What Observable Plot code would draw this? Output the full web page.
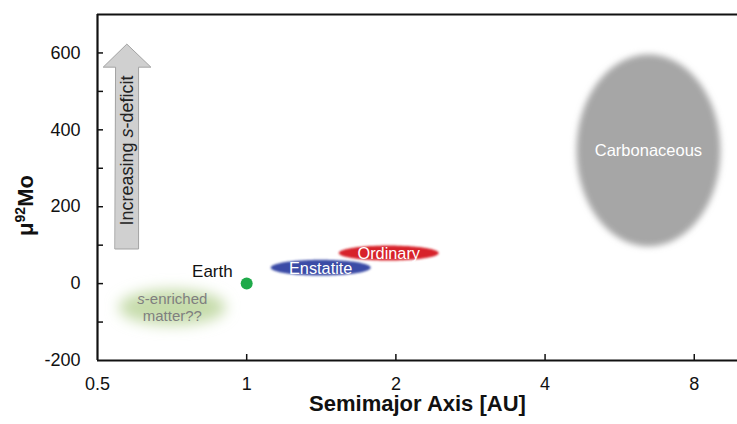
<!DOCTYPE html>
<html><head><meta charset="utf-8">
<script src="https://cdn.jsdelivr.net/npm/d3@7"></script>
<script src="https://cdn.jsdelivr.net/npm/@observablehq/plot@0.6"></script>
<style>body{margin:0;background:#fff}</style>
</head><body><div id="chart"></div>
<script>
// ---- data ----
const xTicks = [0.5, 1, 2, 4, 8];
const xInnerTicks = [1, 2, 4, 8];
const yTicks = [-200, 0, 200, 400, 600];
const yInnerTicks = [-100, 0, 100, 200, 300, 400, 500, 600];

const regions = ["Carbonaceous", "Ordinary", "Enstatite", "s-enriched\nmatter??"];
const regionAuMin = [4.63, 1.534, 1.118, 0.552];
const regionAuMax = [9.03, 2.44, 1.779, 0.908];
const regionMuMin = [97, 60, 21, -108];
const regionMuMax = [596, 99, 62, -15];
const regionColors = ["#a6a6a6", "#d7212b", "#3a4ba6", "#c6dcab"];
const regionTextColors = ["#ffffff", "#ffffff", "#ffffff", "#7f7f7f"];
const regionFontSizes = [16.5, 16.3, 16.3, 15];
const regionBlur = [3, 1, 1, 7];

const earthAu = [1];
const earthMu = [0];
const earthLabel = ["Earth"];

// arrow outline (AU, μ92Mo)
const arrowAu = [0.5428, 0.6051, 0.6051, 0.6408, 0.573, 0.5134, 0.5428];
const arrowMu = [90, 90, 563, 563, 623, 563, 563];
const arrowLabel = ["Increasing s-deficit"];
const arrowLabelAu = [0.573];
const arrowLabelMu = [346];

const xLabel = "Semimajor Axis [AU]";
const yLabel = "μ92Mo";

// ---- build ----
function ellipsePts(i) {
  const l0 = Math.log(regionAuMin[i]), l1 = Math.log(regionAuMax[i]);
  const cy = (regionMuMin[i] + regionMuMax[i]) / 2, ry = (regionMuMax[i] - regionMuMin[i]) / 2;
  return d3.range(0, 145).map(k => {
    const t = k / 144 * 2 * Math.PI;
    return {x: Math.exp((l0 + l1) / 2 + (l1 - l0) / 2 * Math.cos(t)), y: cy + ry * Math.sin(t)};
  });
}
const regionCenters = regions.map((name, i) => ({
  name,
  x: Math.sqrt(regionAuMin[i] * regionAuMax[i]),
  y: (regionMuMin[i] + regionMuMax[i]) / 2,
  i
}));
const arrowPts = arrowAu.map((x, i) => ({x, y: arrowMu[i]}));
const earth = earthAu.map((x, i) => ({x, y: earthMu[i], label: earthLabel[i]}));

const font = "Liberation Sans, Arial, Helvetica, sans-serif";
const marks = [];
regions.forEach((r, i) => {
  marks.push(Plot.line(ellipsePts(i), {x: "x", y: "y", fill: regionColors[i], stroke: "none", curve: "linear-closed"}));
});
regionCenters.forEach(c => {
  marks.push(Plot.text([c], {x: "x", y: "y", text: "name", fill: regionTextColors[c.i], fontSize: regionFontSizes[c.i], lineHeight: 1.13}));
});
marks.push(
  Plot.line(arrowPts, {x: "x", y: "y", fill: "#d0d0d0", stroke: "#a3a3a3", strokeWidth: 1, curve: "linear-closed"}),
  Plot.text(arrowLabel, {x: () => arrowLabelAu[0], y: () => arrowLabelMu[0], text: d => d, rotate: -90, fontSize: 18, fill: "#222"}),
  Plot.dot(earth, {x: "x", y: "y", r: 6, fill: "#1faa4a"}),
  Plot.text(earth, {x: "x", y: "y", text: "label", textAnchor: "end", dx: -14, dy: -12, fontSize: 17, fill: "#111"}),
  Plot.tickX(xInnerTicks, {x: d => d, insetTop: 340, stroke: "#111", strokeWidth: 1.5}),
  Plot.tickY(yInnerTicks, {y: d => d, insetRight: 634, stroke: "#111", strokeWidth: 1.5}),
  Plot.ruleX([xTicks[0]], {stroke: "#111", strokeWidth: 2.2}),
  Plot.ruleY([-200, 700], {stroke: "#111", strokeWidth: 2.2}),
  Plot.text(xTicks, {x: d => d, text: d => String(d), frameAnchor: "bottom", lineAnchor: "middle", textAnchor: "middle", dy: 24, fontSize: 18, fill: "#111"}),
  Plot.axisY({ticks: yTicks, tickFormat: d => String(d), tickSize: 0, tickPadding: 17, label: null, fontSize: 18, fill: "#111"}),
  Plot.text([yLabel], {frameAnchor: "left", textAnchor: "middle", lineAnchor: "middle", dx: -72, dy: 18, rotate: -90, fontSize: 22, fontWeight: "bold", fill: "#111"}),
  Plot.text([xLabel], {frameAnchor: "bottom", textAnchor: "middle", lineAnchor: "middle", dy: 43, fontSize: 22, fontWeight: "bold", fill: "#111"})
);

const chart = Plot.plot({
  width: 737, height: 424,
  marginLeft: 97, marginRight: 0, marginTop: 14, marginBottom: 64,
  x: {type: "log", domain: [0.5, 9.78], axis: null},
  y: {domain: [-200, 700]},
  style: {fontFamily: font, background: "#fff", overflow: "visible"},
  marks
});

// ---- post-processing: blur, italic, superscript ----
const svg = d3.select(chart);
const defs = svg.insert("defs", ":first-child");
regionColors.forEach((c, i) => {
  defs.append("filter").attr("id", "blur" + i)
    .attr("x", "-50%").attr("y", "-50%").attr("width", "200%").attr("height", "200%")
    .append("feGaussianBlur").attr("stdDeviation", regionBlur[i]);
  svg.selectAll(`g[fill="${c}"]`).attr("filter", `url(#blur${i})`);
});
svg.selectAll("text, tspan").each(function() {
  const el = d3.select(this);
  const t = this.textContent;
  if (this.childElementCount) return;
  if (t === "Increasing s-deficit") {
    el.text(null);
    el.append("tspan").text("Increasing ");
    el.append("tspan").attr("font-style", "italic").text("s");
    el.append("tspan").text("-deficit");
  } else if (t === "s-enriched") {
    el.text(null);
    el.append("tspan").attr("font-style", "italic").text("s");
    el.append("tspan").text("-enriched");
  } else if (t === "μ92Mo") {
    el.text(null);
    el.append("tspan").text("μ");
    el.append("tspan").attr("font-size", "14px").attr("dy", "-8").text("92");
    el.append("tspan").attr("dy", "8").text("Mo");
  }
});
document.getElementById("chart").appendChild(chart);
</script>
</body></html>
